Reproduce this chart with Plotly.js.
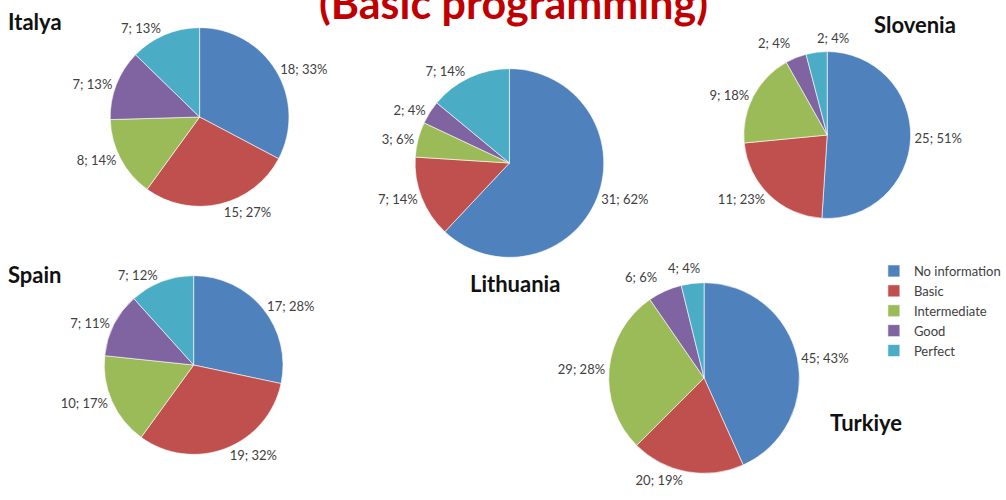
<!DOCTYPE html>
<html>
<head>
<meta charset="utf-8">
<script src="https://cdn.plot.ly/plotly-3.0.1.min.js"></script>
<style>html,body{margin:0;padding:0;background:#fff}#chart{width:1006px;height:500px}</style>
</head>
<body>
<div id="chart"></div>
<script>
const categories = ["No information", "Basic", "Intermediate", "Good", "Perfect"];
const colors = ["#4F81BD", "#C0504D", "#9BBB59", "#8064A2", "#4BACC6"];

const italyValues = [18, 15, 8, 7, 7];
const italyPct = [33, 27, 14, 13, 13];
const lithuaniaValues = [31, 7, 3, 2, 7];
const lithuaniaPct = [62, 14, 6, 4, 14];
const sloveniaValues = [25, 11, 9, 2, 2];
const sloveniaPct = [51, 23, 18, 4, 4];
const spainValues = [17, 19, 10, 7, 7];
const spainPct = [28, 32, 17, 11, 12];
const turkiyeValues = [45, 20, 29, 6, 4];
const turkiyePct = [43, 19, 28, 6, 4];

const FONT = "Lato, 'DejaVu Sans', sans-serif";
const W = 1006, H = 500;
function dom(cx, cy, r) {
  return { x: [(cx - r) / W, (cx + r) / W], y: [1 - (cy + r) / H, 1 - (cy - r) / H] };
}
function pie(name, values, pct, d, showlegend, textpos) {
  return {
    type: "pie", name: name, labels: categories, values: values, text: pct,
    texttemplate: "%{value}; %{text}%", textposition: textpos || "outside",
    textfont: { family: FONT, size: 13, color: "#404040" },
    marker: { colors: colors, line: { color: "#ffffff", width: 0.6 } },
    sort: false, direction: "clockwise", rotation: 0,
    domain: d, showlegend: showlegend, hoverinfo: "label+value+percent",
    automargin: false
  };
}
const smallPos = ["outside", "outside", "outside", "none", "none"];
const data = [
  pie("Italya", italyValues, italyPct, dom(201, 117, 90), true),
  pie("Lithuania", lithuaniaValues, lithuaniaPct, dom(513, 163, 95), false),
  pie("Slovenia", sloveniaValues, sloveniaPct, dom(833, 135, 84), false, smallPos),
  pie("Spain", spainValues, spainPct, dom(195, 365, 90), false),
  pie("Turkiye", turkiyeValues, turkiyePct, dom(709, 378, 96), false, smallPos)
];
function ann(text, x, y, xanchor, size, color) {
  return { text: text, x: x / W, y: 1 - y / H, xref: "paper", yref: "paper",
    xanchor: xanchor, yanchor: "middle", showarrow: false,
    font: { family: FONT, size: size, color: color } };
}
function lbl(values, pct, i, x, y) {
  return ann(values[i] + "; " + pct[i] + "%", x, y, "center", 13, "#404040");
}
const layout = {
  width: W, height: H, margin: { l: 0, r: 0, t: 0, b: 0 },
  paper_bgcolor: "#ffffff", plot_bgcolor: "#ffffff",
  showlegend: true,
  legend: { x: 880 / W, y: 1 - 256 / H, xanchor: "left", yanchor: "top",
    font: { family: FONT, size: 13, color: "#404040" },
    itemwidth: 30, tracegroupgap: 0, bgcolor: "rgba(0,0,0,0)" },
  annotations: [
    ann("<b>(Basic programming)</b>", 517, 2, "center", 43, "#C00000"),
    ann("<b>Italya</b>", 6, 21, "left", 22, "#111111"),
    ann("<b>Lithuania</b>", 519, 283, "center", 22, "#111111"),
    ann("<b>Slovenia</b>", 878, 24, "left", 22, "#111111"),
    ann("<b>Spain</b>", 6, 274, "left", 22, "#111111"),
    ann("<b>Turkiye</b>", 834, 422, "left", 22, "#111111"),
    lbl(sloveniaValues, sloveniaPct, 3, 779, 43),
    lbl(sloveniaValues, sloveniaPct, 4, 839, 38),
    lbl(turkiyeValues, turkiyePct, 3, 645, 277),
    lbl(turkiyeValues, turkiyePct, 4, 689, 268)
  ]
};
Plotly.newPlot("chart", data, layout, { displayModeBar: false, staticPlot: true });
</script>
</body>
</html>
